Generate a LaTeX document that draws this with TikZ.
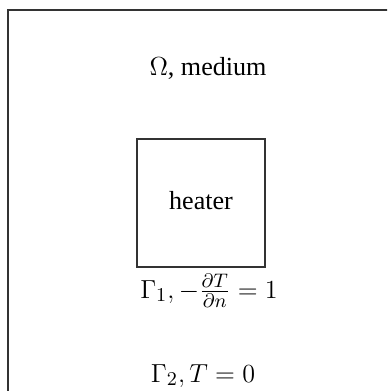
\documentclass[tikz,border=0pt]{standalone}
\usepackage[no-math]{fontspec}
\setmainfont{Liberation Serif}
\begin{document}
\begin{tikzpicture}[x=0.46pt,y=-0.46pt,
  box/.style={draw=black!80,line width=0.5pt},
  lbl/.style={anchor=base,inner sep=0pt,font=\fontsize{12}{14}\selectfont},
  mlbl/.style={anchor=base,inner sep=0pt,font=\fontsize{12.6}{15}\selectfont}]
\useasboundingbox (0,0) rectangle (387,391);
\clip (0,0) rectangle (387,391);
\draw[box] (8,10) rectangle (420,420);
\draw[box] (137,139) rectangle (265,267);
\node[lbl] (omega) at (208,76) {$\Omega$, medium};
\node[lbl] (heater) at (201,209) {heater};
\node[mlbl] (g1) at (209,298) {$\Gamma_1, -\frac{\partial T}{\partial n}=1$};
\node[mlbl] (g2) at (203,382) {$\Gamma_2, T=0$};
\end{tikzpicture}
\end{document}
